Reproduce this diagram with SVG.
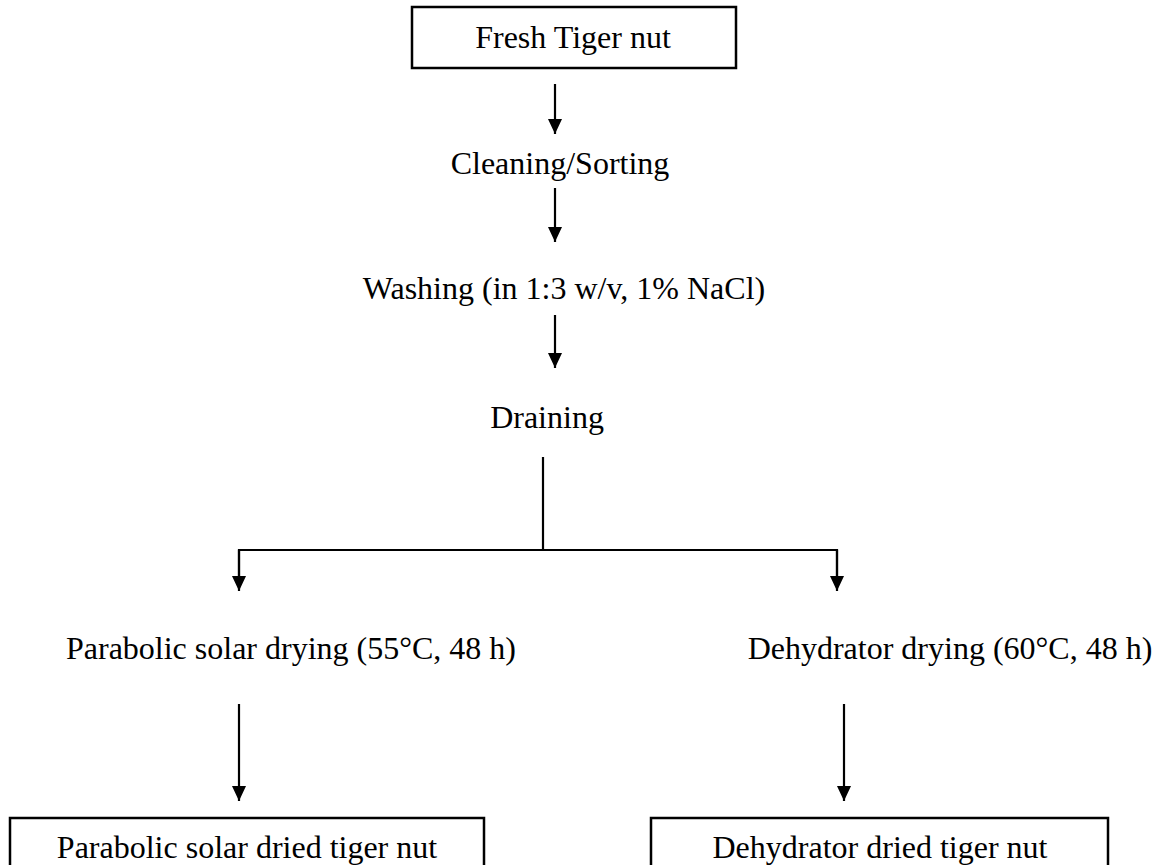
<svg xmlns="http://www.w3.org/2000/svg" width="1156" height="865" viewBox="0 0 1156 865">
<defs>
<style>
.box{fill:#fff;stroke:#000;stroke-width:2.5}
.lbl{font-family:"Liberation Serif","Times New Roman",serif;font-size:32px;fill:#000;text-anchor:middle}
.ln{stroke:#000;stroke-width:2.2;fill:none}
</style>
<marker id="ah" viewBox="0 0 15 14" refX="15" refY="7" markerWidth="15" markerHeight="14" markerUnits="userSpaceOnUse" orient="auto">
<path d="M0,0 L15,7 L0,14 Z" fill="#000"/>
</marker>
</defs>
<rect width="1156" height="865" fill="#fff"/>
<g id="connectors">
<line class="ln" x1="555" y1="84" x2="555" y2="134" marker-end="url(#ah)"/>
<line class="ln" x1="555" y1="188" x2="555" y2="242" marker-end="url(#ah)"/>
<line class="ln" x1="555" y1="315" x2="555" y2="368" marker-end="url(#ah)"/>
<line class="ln" x1="543" y1="457" x2="543" y2="550"/>
<polyline class="ln" points="239,580 239,550 837,550 837,580"/>
<line class="ln" x1="239" y1="550" x2="239" y2="591" marker-end="url(#ah)"/>
<line class="ln" x1="837" y1="550" x2="837" y2="591" marker-end="url(#ah)"/>
<line class="ln" x1="239" y1="704" x2="239" y2="801" marker-end="url(#ah)"/>
<line class="ln" x1="844" y1="704" x2="844" y2="801" marker-end="url(#ah)"/>
</g>
<g id="fresh">
<rect class="box" x="412" y="7" width="324" height="61"/>
<text class="lbl" x="573" y="48">Fresh Tiger nut</text>
</g>
<g id="cleaning"><text class="lbl" x="560" y="174">Cleaning/Sorting</text></g>
<g id="washing"><text class="lbl" x="564" y="299">Washing (in 1:3 w/v, 1% NaCl)</text></g>
<g id="draining"><text class="lbl" x="547" y="428">Draining</text></g>
<g id="solar-drying"><text class="lbl" x="291" y="659">Parabolic solar drying (55°C, 48 h)</text></g>
<g id="dehydrator-drying"><text class="lbl" x="950" y="659">Dehydrator drying (60°C, 48 h)</text></g>
<g id="solar-dried">
<rect class="box" x="10" y="818" width="474" height="70"/>
<text class="lbl" x="247" y="858">Parabolic solar dried tiger nut</text>
</g>
<g id="dehydrator-dried">
<rect class="box" x="651" y="818" width="457" height="70"/>
<text class="lbl" x="880" y="858">Dehydrator dried tiger nut</text>
</g>
</svg>
